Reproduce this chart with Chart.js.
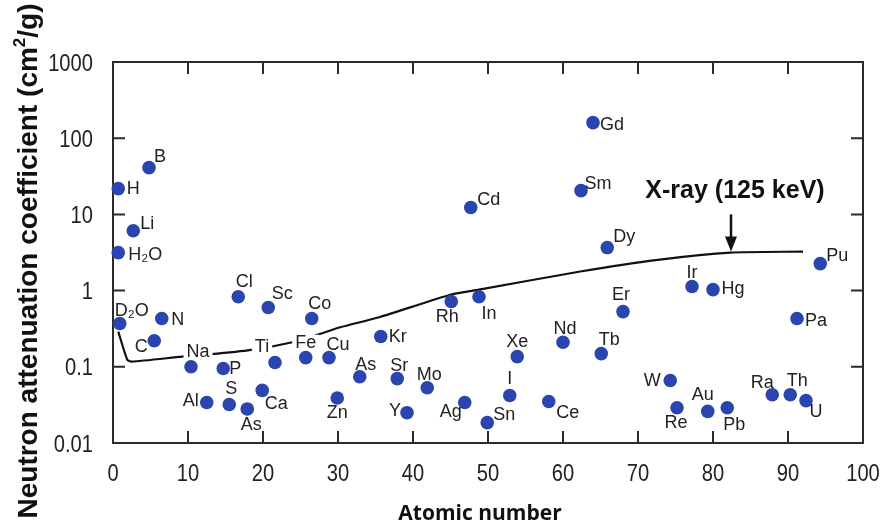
<!DOCTYPE html>
<html lang="en">
<head>
<meta charset="UTF-8" />
<title>Neutron attenuation coefficient</title>
<script src="https://cdn.jsdelivr.net/npm/chart.js@4.4.1/dist/chart.umd.min.js"></script>
<style>
  body { margin: 0; background: #fff; }
  #wrap { width: 881px; height: 526px; }
</style>
</head>
<body>
<div id="wrap"><canvas id="chart"></canvas></div>
<script>
// element points
const pointNames = ['H', 'B', 'Li', 'H₂O', 'D₂O', 'N', 'C', 'Na', 'P', 'Al', 'S', 'As', 'Ca', 'Cl', 'Sc', 'Ti', 'Fe', 'Cu', 'Co', 'Zn',
  'As', 'Kr', 'Sr', 'Y', 'Mo', 'Ag', 'Rh', 'In', 'Sn', 'I', 'Xe', 'Nd', 'Ce', 'Cd', 'Gd', 'Sm', 'Dy', 'Pu', 'Ir', 'Hg',
  'Er', 'Tb', 'Pa', 'W', 'Re', 'Au', 'Pb', 'Ra', 'Th', 'U'];
const pointX = [0.7, 4.8, 2.7, 0.7, 0.9, 6.5, 5.5, 10.4, 14.7, 12.5, 15.5, 17.9, 19.9, 16.7, 20.7, 21.6, 25.7, 28.8, 26.5, 29.9,
  32.9, 35.7, 37.9, 39.2, 41.9, 46.9, 45.1, 48.8, 49.9, 52.9, 53.9, 60, 58.1, 47.7, 64, 62.4, 65.9, 94.3, 77.2, 80,
  68, 65.1, 91.2, 74.3, 75.2, 79.3, 81.9, 87.9, 90.3, 92.4];
const pointY = [21.8, 41.1, 6.1, 3.15, 0.37, 0.43, 0.22, 0.10, 0.095, 0.034, 0.032, 0.028, 0.049, 0.83, 0.60, 0.114, 0.132, 0.132, 0.43, 0.039,
  0.074, 0.25, 0.070, 0.025, 0.053, 0.034, 0.72, 0.83, 0.0185, 0.042, 0.136, 0.21, 0.035, 12.3, 160, 20.5, 3.67, 2.26, 1.13, 1.03,
  0.53, 0.149, 0.43, 0.066, 0.029, 0.026, 0.029, 0.043, 0.043, 0.036];

// X-ray (125 keV) curve
const xrayX = [0.7, 1.9, 2.5, 9.2, 13.9, 18.7, 23.9, 27.3, 30.3, 35.6, 45.1, 48.8, 62.3, 72.9, 82.3, 92];
const xrayY = [0.29, 0.124, 0.117, 0.136, 0.149, 0.168, 0.21, 0.265, 0.33, 0.45, 0.89, 1.03, 1.78, 2.55, 3.15, 3.25];

const yTicks = [0.01, 0.1, 1, 10, 100, 1000];
const yTickLabels = ['0.01', '0.1', '1', '10', '100', '1000'];

const xrayLabel = 'X-ray (125 keV)';
const arrowX = 82.4, arrowFrom = 10, arrowTo = 3.25;

// where each label sits relative to its dot (px), same order as pointNames
const labelOffset = [[15, 0], [11, -11], [14, -7], [27, 2], [12, -12], [16, 2], [-13, 6], [7, -15], [12, 1], [-16, -1],
  [2, -15], [4, 16], [14, 14], [6, -15], [14, -13], [-13, -15], [0, -15], [9, -13], [8, -14], [0, 15],
  [6, -12], [17, 1], [2, -13], [-12, -2], [2, -13], [-14, 10], [-4, 16], [10, 17], [17, -8], [0, -16],
  [0, -15], [2, -13], [19, 11], [18, -8], [19, 2], [17, -7], [17, -11], [17, -8], [0, -14], [20, -1],
  [-2, -17], [8, -14], [19, 3], [-18, 0], [-1, 15], [-5, -16], [7, 17], [-10, -12], [7, -14], [10, 11]];
const labelsOverLine = ['Na', 'Ti', 'Fe'];

const labelFont = "18px 'Liberation Sans', 'DejaVu Sans', sans-serif";
const tickFont = "24px 'Liberation Sans', Arial, sans-serif";
const squeeze = 0.84; // narrow look of the tick numbers

const framePlugin = {
  id: 'frame',
  beforeDatasetsDraw(chart) {
    const { ctx, chartArea: a, scales: { x, y } } = chart;
    ctx.save();
    ctx.strokeStyle = '#2b2b2b';
    ctx.lineWidth = 2;
    ctx.strokeRect(a.left, a.top, a.right - a.left, a.bottom - a.top);
    ctx.beginPath();
    x.ticks.forEach(t => {
      const px = x.getPixelForValue(t.value);
      ctx.moveTo(px, a.bottom); ctx.lineTo(px, a.bottom - 12);
      ctx.moveTo(px, a.top); ctx.lineTo(px, a.top + 12);
    });
    y.ticks.forEach(t => {
      const py = y.getPixelForValue(t.value);
      ctx.moveTo(a.left, py); ctx.lineTo(a.left + 12, py);
      ctx.moveTo(a.right, py); ctx.lineTo(a.right - 12, py);
    });
    ctx.stroke();

    // tick numbers
    ctx.fillStyle = '#222';
    ctx.font = tickFont;
    ctx.textBaseline = 'alphabetic';
    ctx.textAlign = 'center';
    x.ticks.forEach(t => {
      ctx.save();
      ctx.translate(x.getPixelForValue(t.value), a.bottom + 38);
      ctx.scale(squeeze, 1);
      ctx.fillText(String(t.value), 0, 0);
      ctx.restore();
    });
    ctx.textAlign = 'right';
    y.ticks.forEach(t => {
      const i = yTicks.indexOf(t.value);
      if (i < 0) return;
      ctx.save();
      ctx.translate(a.left - 20, y.getPixelForValue(t.value) + 8.5);
      ctx.scale(squeeze, 1);
      ctx.fillText(yTickLabels[i], 0, 0);
      ctx.restore();
    });
    ctx.restore();
  },
  // white patches where labels cut through the x-ray curve
  afterDatasetDraw(chart, args) {
    if (args.meta.type !== 'line') return;
    const ctx = chart.ctx;
    const pts = chart.getDatasetMeta(1).data;
    ctx.save();
    ctx.font = labelFont;
    ctx.fillStyle = '#fff';
    pointNames.forEach((n, i) => {
      if (!labelsOverLine.includes(n)) return;
      const w = ctx.measureText(n).width + 6;
      const cx = pts[i].x + labelOffset[i][0], cy = pts[i].y + labelOffset[i][1];
      ctx.fillRect(cx - w / 2, cy - 8, w, 16);
    });
    ctx.restore();
  },
  afterDatasetsDraw(chart) {
    const { ctx, scales: { x, y } } = chart;
    const pts = chart.getDatasetMeta(1).data;
    ctx.save();
    ctx.font = labelFont;
    ctx.fillStyle = '#222';
    ctx.textAlign = 'center';
    ctx.textBaseline = 'middle';
    pointNames.forEach((n, i) => {
      ctx.fillText(n, pts[i].x + labelOffset[i][0], pts[i].y + labelOffset[i][1]);
    });

    // arrow + caption
    const ax = x.getPixelForValue(arrowX);
    const y0 = y.getPixelForValue(arrowFrom), y1 = y.getPixelForValue(arrowTo);
    ctx.strokeStyle = '#111';
    ctx.fillStyle = '#111';
    ctx.lineWidth = 2.5;
    ctx.beginPath();
    ctx.moveTo(ax, y0); ctx.lineTo(ax, y1 - 12);
    ctx.stroke();
    ctx.beginPath();
    ctx.moveTo(ax - 6, y1 - 15); ctx.lineTo(ax + 6, y1 - 15); ctx.lineTo(ax, y1);
    ctx.closePath();
    ctx.fill();
    ctx.font = "bold 25px 'Liberation Sans', Arial, sans-serif";
    ctx.textBaseline = 'alphabetic';
    ctx.fillText(xrayLabel, ax + 4, y0 - 16);

    // axis titles
    ctx.fillStyle = '#111';
    ctx.font = "bold 21px 'Open Sans', sans-serif";
    ctx.fillText('Atomic number', 480, 520);

    ctx.translate(37, 261);
    ctx.rotate(-Math.PI / 2);
    const big = "bold 28px 'Liberation Sans', Arial, sans-serif";
    const small = "bold 17px 'Liberation Sans', Arial, sans-serif";
    const p1 = 'Neutron attenuation coefficient (cm', p2 = '2', p3 = '/g)';
    ctx.font = big;
    const w1 = ctx.measureText(p1).width, w3 = ctx.measureText(p3).width;
    ctx.font = small;
    const w2 = ctx.measureText(p2).width;
    let sx = -(w1 + w2 + w3) / 2;
    ctx.textAlign = 'left';
    ctx.font = big;
    ctx.fillText(p1, sx, 0);
    ctx.font = small;
    ctx.fillText(p2, sx + w1, -12);
    ctx.font = big;
    ctx.fillText(p3, sx + w1 + w2, 0);
    ctx.restore();
  }
};

const ctx = document.getElementById('chart').getContext('2d');
new Chart(ctx, {
  type: 'scatter',
  data: {
    datasets: [{
      type: 'line',
      data: xrayX.map((v, i) => ({ x: v, y: xrayY[i] })),
      borderColor: '#111',
      borderWidth: 2.2,
      pointRadius: 0,
      tension: 0.2,
      fill: false,
      clip: false,
      order: 2
    }, {
      data: pointX.map((v, i) => ({ x: v, y: pointY[i] })),
      backgroundColor: '#2a45b0',
      borderWidth: 0,
      pointRadius: 6.8,
      clip: false,
      order: 1
    }]
  },
  options: {
    responsive: true,
    maintainAspectRatio: false,
    animation: false,
    layout: { padding: { top: 62, right: 18, left: 0, bottom: 0 } },
    plugins: { legend: { display: false }, tooltip: { enabled: false } },
    scales: {
      x: {
        type: 'linear', min: 0, max: 100,
        grid: { display: false, drawTicks: false },
        border: { display: false },
        ticks: { stepSize: 10, display: false },
        afterFit: s => { s.height = 83; }
      },
      y: {
        type: 'logarithmic', min: 0.01, max: 1000,
        grid: { display: false, drawTicks: false },
        border: { display: false },
        afterBuildTicks: s => { s.ticks = yTicks.map(v => ({ value: v })); },
        ticks: { display: false },
        afterFit: s => { s.width = 113; }
      }
    }
  },
  plugins: [framePlugin]
});
</script>
</body>
</html>
